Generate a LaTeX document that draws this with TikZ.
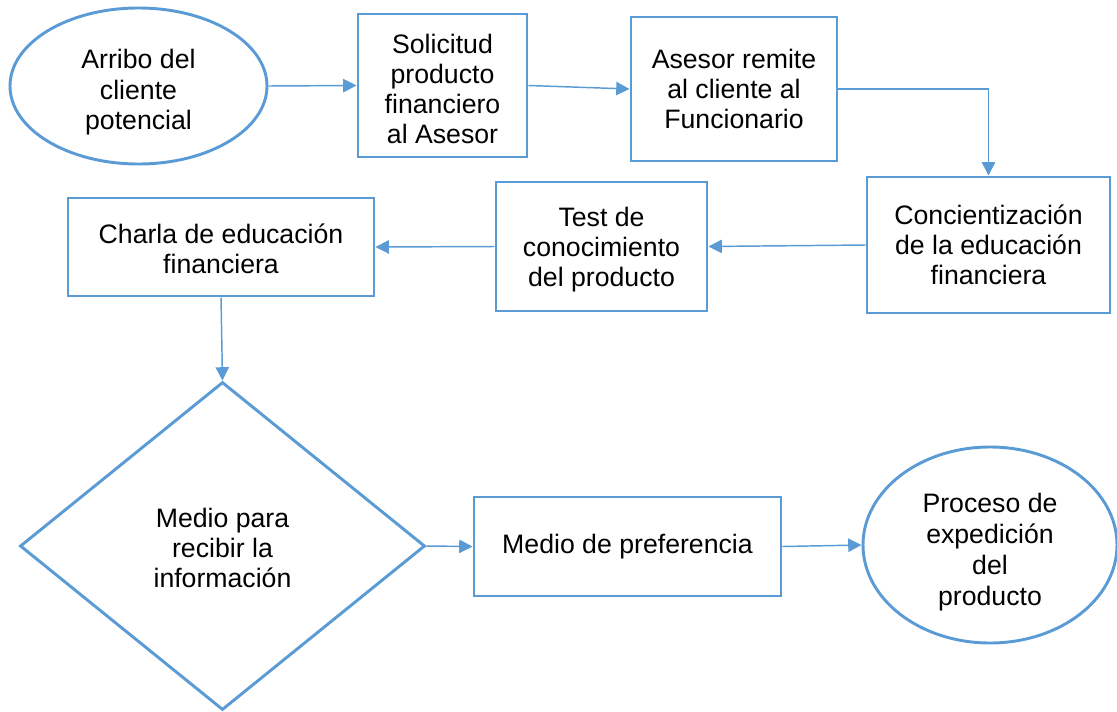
\documentclass[tikz,border=0pt]{standalone}
\usepackage{fontspec}
\setmainfont{Liberation Sans}
\usetikzlibrary{shapes.geometric,arrows.meta}
\definecolor{ob}{HTML}{5B9BD5}
\newcommand{\topgap}[1]{\rule{0pt}{#1}}
\begin{document}
\begin{tikzpicture}[x=0.75pt,y=-0.75pt,
  box/.style={draw=ob,line width=2.2pt,rectangle,inner sep=0pt,align=center,
    font=\fontsize{20}{22.5}\selectfont},
  ell/.style={box,ellipse},
  dia/.style={box,diamond},
  conn/.style={draw=ob,line width=1.1pt,-{Triangle[length=10pt,width=10pt]}}]
\useasboundingbox (0,0) rectangle (1117,711);
\node[ell,minimum width=192.75pt,minimum height=117pt,font=\fontsize{20}{23}\selectfont] (e1) at (138.5,86) {\topgap{24pt}Arribo del\\cliente\\potencial};
\node[box,minimum width=126.75pt,minimum height=107.25pt] (r2) at (442.5,85.5) {\topgap{19pt}Solicitud\\producto\\financiero\\al Asesor};
\node[box,minimum width=154.5pt,minimum height=108pt] (r3) at (734,89) {Asesor remite\\al cliente al\\Funcionario};
\node[box,minimum width=182.25pt,minimum height=102pt] (r4) at (988.5,245) {Concientización\\de la educación\\financiera};
\node[box,minimum width=158.25pt,minimum height=96.75pt] (r5) at (601.5,246.5) {\topgap{18.4pt}Test de\\conocimiento\\del producto};
\node[box,minimum width=229.5pt,minimum height=73.5pt] (r6) at (221,247) {\topgap{17.6pt}Charla de educación\\financiera};
\node[dia,minimum width=303.75pt,minimum height=246pt] (d) at (222.5,546) {\topgap{17.6pt}Medio para\\recibir la\\información};
\node[box,minimum width=230.25pt,minimum height=74.25pt] (r8) at (627.5,546.5) {Medio de preferencia};
\node[ell,minimum width=190.5pt,minimum height=147pt,font=\fontsize{20}{23.25}\selectfont] (e2) at (990,545) {\topgap{25.8pt}Proceso de\\expedición\\del\\producto};
\draw[conn] (e1.east) -- (r2.west);
\draw[conn] (r2.east) -- (r3.west);
\draw[conn] (r3.east) -| (r4.north);
\draw[conn] (r4.west) -- (r5.east);
\draw[conn] (r5.west) -- (r6.east);
\draw[conn] (r6.south) -- (d.north);
\draw[conn] (d.east) -- (r8.west);
\draw[conn] (r8.east) -- (e2.west);
\end{tikzpicture}
\end{document}
